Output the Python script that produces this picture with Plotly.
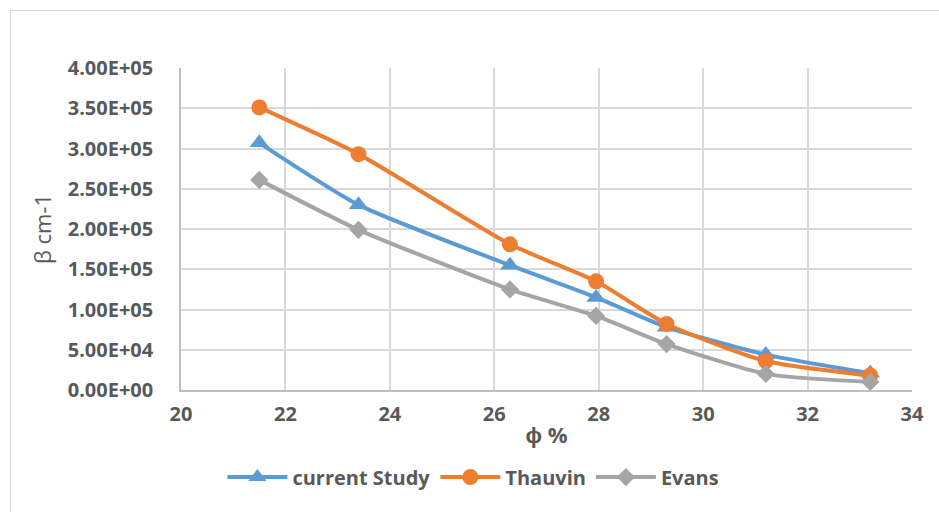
import plotly.graph_objects as go

phi = [21.5, 23.4, 26.3, 27.95, 29.3, 31.2, 33.2]
current_study = [3.07e5, 2.30e5, 1.55e5, 1.15e5, 0.78e5, 0.44e5, 0.21e5]
thauvin = [3.51e5, 2.93e5, 1.81e5, 1.35e5, 0.82e5, 0.36e5, 0.18e5]
evans = [2.61e5, 1.99e5, 1.25e5, 0.92e5, 0.57e5, 0.20e5, 0.10e5]

y_ticks = [0, 5e4, 1e5, 1.5e5, 2e5, 2.5e5, 3e5, 3.5e5, 4e5]
y_tick_labels = ["0.00E+00", "5.00E+04", "1.00E+05", "1.50E+05", "2.00E+05",
                 "2.50E+05", "3.00E+05", "3.50E+05", "4.00E+05"]
x_ticks = [20, 22, 24, 26, 28, 30, 32, 34]

font_family = "Open Sans, sans-serif"
gray_text = "#595959"

fig = go.Figure()
series = [
    ("current Study", current_study, "#5B9BD5", "triangle-up", 17),
    ("Thauvin", thauvin, "#ED7D31", "circle", 16),
    ("Evans", evans, "#A5A5A5", "diamond", 14),
]
for name, vals, color, sym, size in series:
    fig.add_trace(go.Scatter(
        x=phi, y=vals, name=name, mode="lines+markers",
        line=dict(color=color, width=4, shape="spline", smoothing=0.6),
        marker=dict(color=color, symbol=sym, size=size),
    ))

L, R, T, B = 181, 27, 68, 122
W, H = 939, 512
pw, ph = W - L - R, H - T - B

def px2x(px):
    return (px - L) / pw

def py2y(py):
    return (H - B - py) / ph

fig.add_shape(type="line", xref="paper", yref="paper",
              x0=px2x(10.5), x1=px2x(10.5), y0=py2y(10.5), y1=py2y(520),
              line=dict(color="#D9D9D9", width=1))
fig.add_shape(type="line", xref="paper", yref="paper",
              x0=px2x(10.5), x1=px2x(945), y0=py2y(10.5), y1=py2y(10.5),
              line=dict(color="#D9D9D9", width=1))

fig.update_layout(
    width=W, height=H,
    margin=dict(l=L, r=R, t=T, b=B, autoexpand=False),
    paper_bgcolor="white", plot_bgcolor="white",
    font=dict(family=font_family, color=gray_text),
    showlegend=True,
    legend=dict(orientation="h", x=0.40, xanchor="center", y=-0.21, yanchor="top",
                font=dict(size=20, color=gray_text, family=font_family, weight="bold"),
                itemwidth=60, traceorder="normal"),
    xaxis=dict(range=[20, 34], tickvals=x_ticks, showgrid=True, gridcolor="#D9D9D9",
               gridwidth=1.5, showline=True, linecolor="#BFBFBF", linewidth=1.5,
               zeroline=False, ticks="", mirror=False, ticklabelstandoff=5, automargin=False,
               tickfont=dict(size=20, color=gray_text, family=font_family, weight="bold"),
               title=dict(text="ϕ %", standoff=2,
                          font=dict(size=22, color=gray_text, family=font_family, weight="bold"))),
    yaxis=dict(range=[0, 4e5], tickvals=y_ticks, ticktext=y_tick_labels, showgrid=True,
               gridcolor="#D9D9D9", gridwidth=1.5, showline=True, linecolor="#BFBFBF",
               linewidth=1.5, zeroline=False, ticks="", ticklabelstandoff=22, automargin=False,
               tickfont=dict(size=20, color=gray_text, family=font_family, weight="bold"),
               title=dict(text="β cm-1", standoff=10,
                          font=dict(size=22, color=gray_text, family=font_family))),
)

fig.write_html("out.html")
